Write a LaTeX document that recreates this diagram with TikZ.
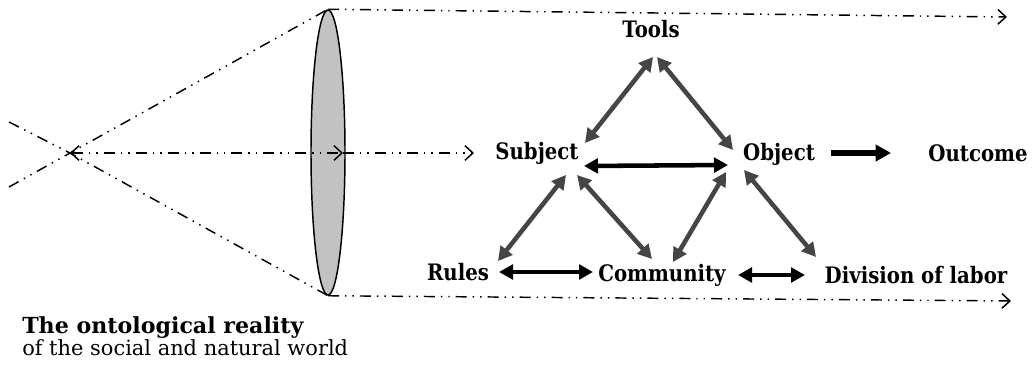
\documentclass[tikz,border=0pt]{standalone}
\usepackage{fontspec}
\setmainfont{DejaVu Serif}
\newfontfamily\lblfont[FakeStretch=0.87]{DejaVu Serif}
\usetikzlibrary{arrows.meta,shapes.geometric}
\definecolor{arrgray}{HTML}{454545}
\definecolor{lensgray}{HTML}{C2C2C2}
\begin{document}
\begin{tikzpicture}[x=0.75pt,y=-0.75pt,
  ray/.style={line width=1.1pt, dash pattern=on 8.25pt off 4.5pt on 1.1pt off 4.5pt on 1.1pt off 4.5pt},
  openhead/.style={ray, -{Straight Barb[length=6pt,width=11pt,line width=1.1pt]}},
  lbl/.style={font=\lblfont\bfseries\fontsize{17}{20}\selectfont, anchor=base, inner sep=0pt},
  gboth/.style={draw=arrgray, line width=3.4pt, {Triangle[length=10.5pt,width=11pt]}-{Triangle[length=10.5pt,width=11pt]}, color=arrgray},
  bboth/.style={draw=black, line width=3.4pt, {Triangle[length=10.5pt,width=11pt]}-{Triangle[length=10.5pt,width=11pt]}},
  bone/.style={draw=black, line width=3.8pt, -{Triangle[length=11.5pt,width=12pt]}}
]
\useasboundingbox (0,0) rectangle (1036,368);
% lens and rays
\node[ellipse, draw, line width=1.1pt, fill=lensgray, minimum width=25.5pt, minimum height=213.75pt, inner sep=0pt] (lens) at (328,152.5) {};
\coordinate (F) at (70,153);
\coordinate (L1) at (9,122);
\coordinate (L2) at (9,187);
\coordinate (M1) at (343,153);
\coordinate (M2) at (474,153);
\coordinate (T) at (1007,17);
\coordinate (B) at (1011,301);
\draw[ray] (L1) -- (F) -- (lens.south);
\draw[ray] (L2) -- (F) -- (lens.north);
\draw[ray, {Straight Barb[length=6pt,width=11pt,line width=1.1pt]}-{Straight Barb[length=6pt,width=11pt,line width=1.1pt]}] (F) -- (M1);
\draw[openhead] (M1) -- (M2);
\draw[openhead] (lens.north) -- (T);
\draw[openhead] (lens.south) -- (B);
% labels
\node[lbl] (tools) at (651,37) {Tools};
\node[lbl] (subj) at (537,159) {Subject};
\node[lbl] (obj) at (779,160) {Object};
\node[lbl] (out) at (978,161) {Outcome};
\node[lbl] (rules) at (458,280) {Rules};
\node[lbl] (comm) at (662,281) {Community};
\node[lbl] (div) at (916,283) {Division of labor};
\node[anchor=base west, inner sep=0pt, font=\bfseries\fontsize{16.6}{19}\selectfont] (onto) at (22,333) {The ontological reality};
\node[anchor=base west, inner sep=0pt, font=\fontsize{15.7}{18}\selectfont] (world) at (22,355) {of the social and natural world};
% activity system arrows
\draw[gboth] ([shift={(2,20)}]tools.base) -- ([shift={(48,-16)}]subj.base);
\draw[gboth] ([shift={(6,20)}]tools.base) -- ([shift={(-46,-10)}]obj.base);
\draw[bboth] ([shift={(47,7)}]subj.base) -- ([shift={(-51,5)}]obj.base);
\draw[gboth] ([shift={(29,16)}]subj.base) -- ([shift={(40,-19)}]rules.base);
\draw[gboth] ([shift={(40,16)}]subj.base) -- ([shift={(-10,-22)}]comm.base);
\draw[gboth] ([shift={(-53,12)}]obj.base) -- ([shift={(11,-19)}]comm.base);
\draw[gboth] ([shift={(-35,10)}]obj.base) -- ([shift={(-100,-26)}]div.base);
\draw[bone] ([shift={(52,-7)}]obj.base) -- ([shift={(-87,-8)}]out.base);
\draw[bboth] ([shift={(41,-8)}]rules.base) -- ([shift={(-69,-9)}]comm.base);
\draw[bboth] ([shift={(76,-6)}]comm.base) -- ([shift={(-111,-8)}]div.base);
\end{tikzpicture}
\end{document}
